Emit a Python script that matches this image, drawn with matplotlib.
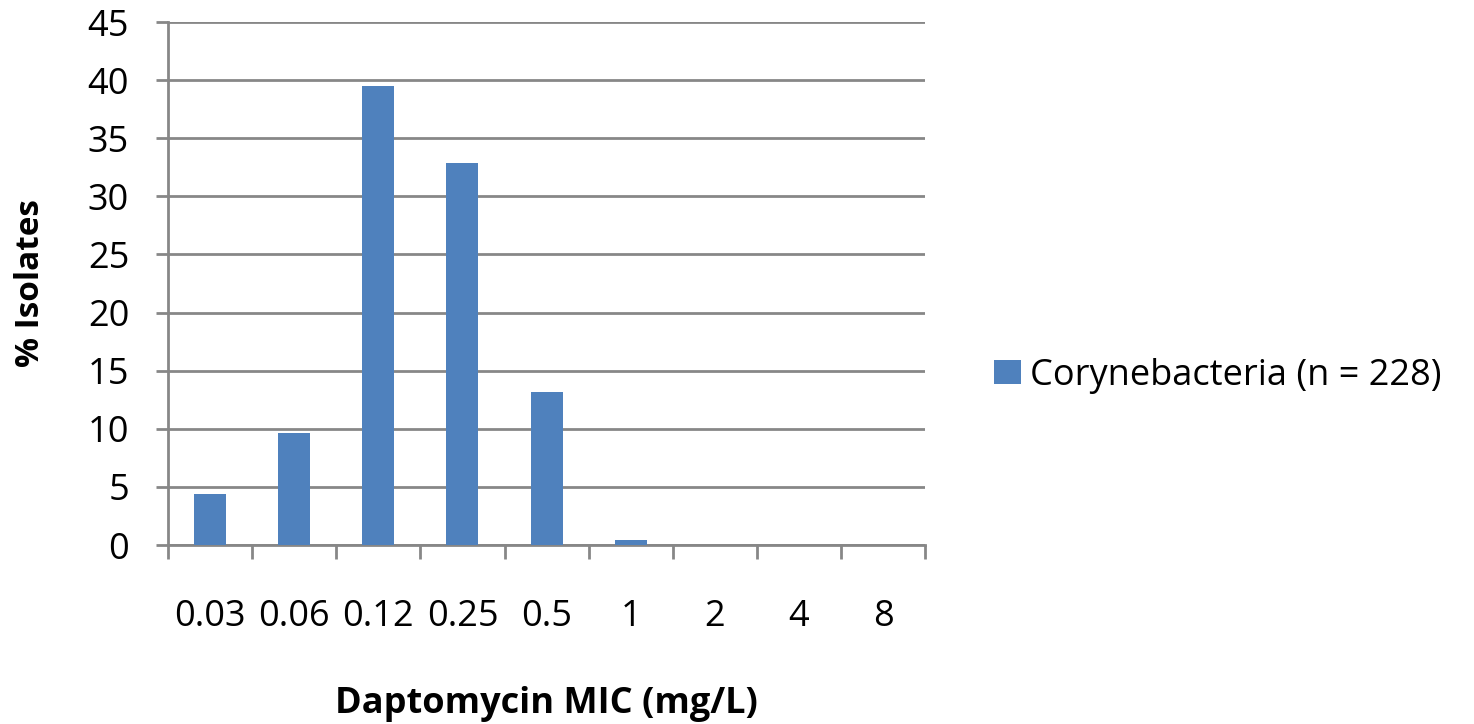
import matplotlib.pyplot as plt
import numpy as np

plt.rcParams['font.family'] = ['Open Sans', 'DejaVu Sans']

mic_labels = ['0.03', '0.06', '0.12', '0.25', '0.5', '1', '2', '4', '8']
pct_isolates = [4.39, 9.65, 39.47, 32.89, 13.16, 0.44, 0, 0, 0]
series_name = 'Corynebacteria (n = 228)'

fig = plt.figure(figsize=(14.74, 7.24), dpi=100)
ax = fig.add_axes([0.114, 0.2472, 0.5136, 0.7224])

x = np.arange(len(mic_labels))
ax.bar(x, pct_isolates, width=0.38, color='#4F81BD', label=series_name, zorder=3)

grid_col = '#878787'
ax.set_ylim(0, 45)
ax.set_yticks(range(0, 46, 5))
ax.yaxis.grid(True, color=grid_col, linewidth=2, zorder=0)
ax.set_xlim(-0.5, len(mic_labels) - 0.5)

# labels at category centres, tick marks at the boundaries
ax.set_xticks(x)
ax.set_xticklabels(mic_labels)
ax.set_xticks(np.arange(-0.5, len(mic_labels)), minor=True)
ax.tick_params(axis='x', which='major', length=0, pad=39, labelsize=26)
ax.tick_params(axis='x', which='minor', length=10, width=2, color=grid_col)
ax.tick_params(axis='y', length=9, width=2, color=grid_col, labelsize=26, pad=19)

for s in ['top', 'right']:
    ax.spines[s].set_visible(False)
for s in ['left', 'bottom']:
    ax.spines[s].set_color(grid_col)
    ax.spines[s].set_linewidth(2)

ax.set_ylabel('% Isolates', fontsize=24, fontweight='bold')
ax.yaxis.set_label_coords(-0.182, 0.5)
ax.yaxis.label.set_va('center')
ax.set_xlabel('Daptomycin MIC (mg/L)', fontsize=26, fontweight='bold')
ax.xaxis.set_label_coords(0.5, -0.321)
ax.xaxis.label.set_va('baseline')

fig.legend(loc='center left', bbox_to_anchor=(0.6744, 0.4807), frameon=False,
           fontsize=26, handlelength=0.75, handleheight=0.65, handletextpad=0.25,
           borderpad=0, borderaxespad=0)

fig.savefig('out.png', dpi=100)
